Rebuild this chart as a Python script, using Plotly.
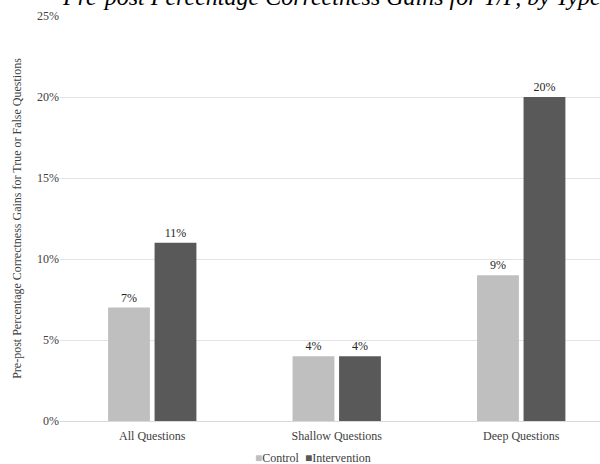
import plotly.graph_objects as go

categories = ["All Questions", "Shallow Questions", "Deep Questions"]
control = [7, 4, 9]
intervention = [11, 4, 20]
series_names = ["Control", "Intervention"]
series_colors = ["#bfbfbf", "#595959"]
y_ticks = [0, 5, 10, 15, 20, 25]
y_tick_labels = ["0%", "5%", "10%", "15%", "20%", "25%"]

SERIF = "Liberation Serif, Times New Roman, serif"
TEXT = "#404040"

fig = go.Figure()
for name, vals, color in zip(series_names, [control, intervention], series_colors):
    fig.add_trace(go.Bar(
        name=name,
        x=categories,
        y=vals,
        marker=dict(color=color, line=dict(width=0)),
        text=[f"{v}%" for v in vals],
        textposition="outside",
        textfont=dict(family=SERIF, size=12, color="#262626"),
        cliponaxis=False,
        showlegend=False,
    ))

# compact legend: small coloured squares followed by the series names
legend_text = "  ".join(
    f"<span style='color:{c}'>■</span>{n}" for n, c in zip(series_names, series_colors)
)

fig.update_layout(
    width=600,
    height=464,
    margin=dict(l=60, r=0, t=16, b=43),
    paper_bgcolor="white",
    plot_bgcolor="white",
    barmode="group",
    bargap=0.496,
    bargroupgap=0.1,
    font=dict(family=SERIF, size=12, color=TEXT),
    annotations=[
        dict(
            text="<i>Pre-post Percentage Correctness Gains for T/F, by Type, Shallow, and Deep</i>",
            font=dict(family=SERIF, size=24, color="#000000"),
            xref="paper", yref="paper",
            x=0.0, xanchor="left",
            y=1.01, yanchor="bottom",
            showarrow=False,
        ),
        dict(
            text=legend_text,
            font=dict(family=SERIF, size=12, color=TEXT),
            xref="paper", yref="paper",
            x=0.468, xanchor="center",
            y=-0.091, yanchor="middle",
            showarrow=False,
        ),
    ],
    xaxis=dict(
        type="category",
        range=[-0.5, 2.427],
        showgrid=False,
        showline=False,
        ticks="",
        ticklabelstandoff=6,
        tickfont=dict(family=SERIF, size=12, color=TEXT),
    ),
    yaxis=dict(
        range=[0, 25],
        tickvals=y_ticks,
        ticktext=y_tick_labels,
        showgrid=True,
        gridcolor="#e3e3e3",
        gridwidth=1,
        zeroline=True,
        zerolinecolor="#d9d9d9",
        zerolinewidth=1,
        showline=False,
        ticks="",
        tickfont=dict(family=SERIF, size=12, color=TEXT),
        title=dict(
            text="Pre-post Percentage Correctness Gains for True or False Questions",
            font=dict(family=SERIF, size=12, color=TEXT),
            standoff=12,
        ),
    ),
)

fig.write_html("out.html")
